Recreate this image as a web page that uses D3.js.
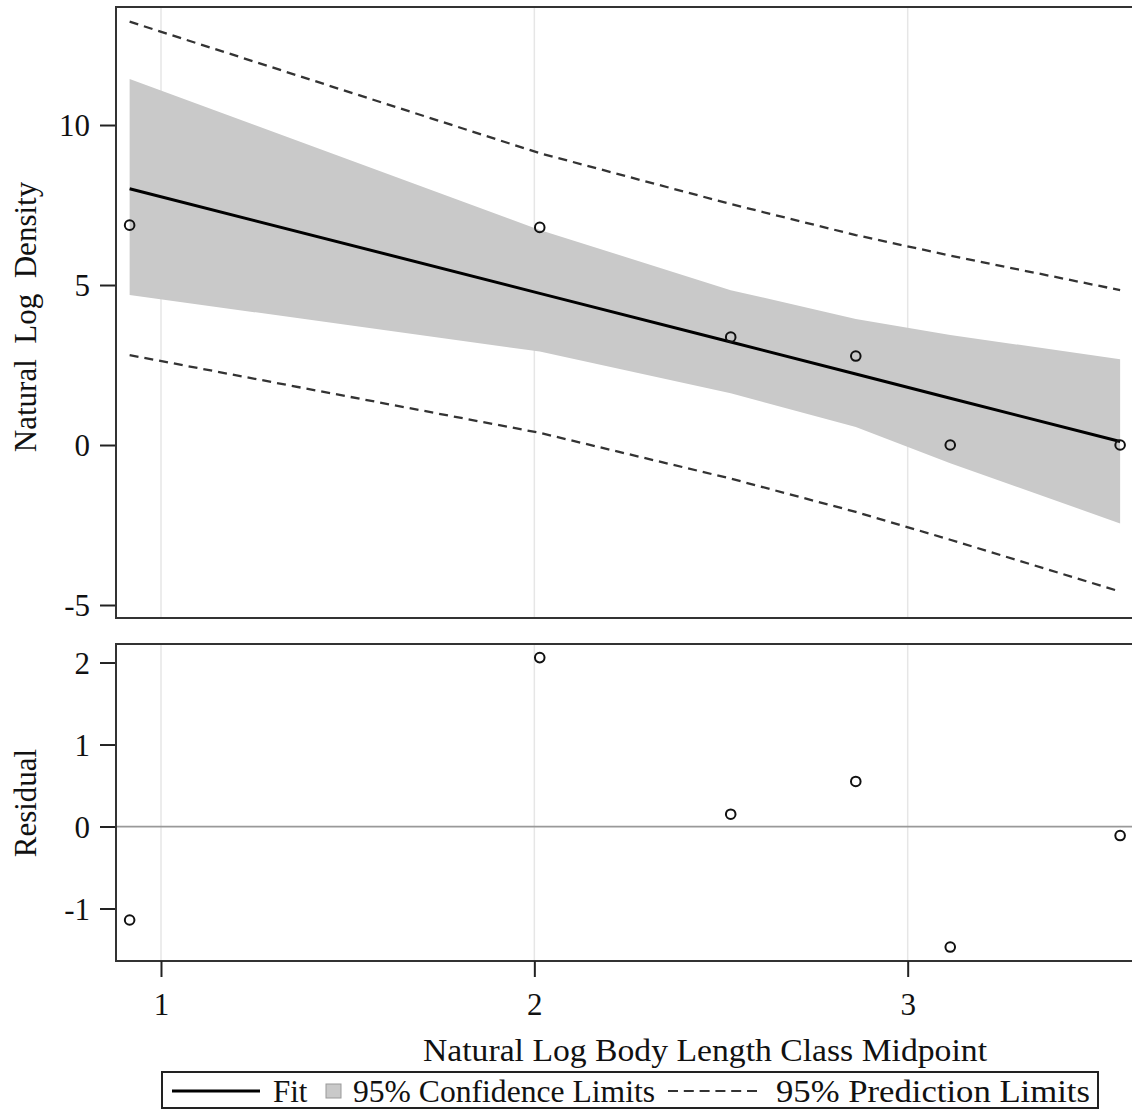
<!DOCTYPE html>
<html>
<head>
<meta charset="utf-8">
<script src="https://cdn.jsdelivr.net/npm/d3@7"></script>
<style>
  html, body { margin: 0; padding: 0; background: #fff; }
  svg { display: block; font-family: "Liberation Serif", "Times New Roman", serif; }
</style>
</head>
<body>
<svg id="chart" width="1132" height="1110"></svg>
<script>
// ---- data ----
const xVals      = [0.916, 2.0145, 2.526, 2.861, 3.114, 3.569];
const observed   = [6.87, 6.80, 3.37, 2.78, 0.0, 0.0];
const fitted     = [8.01, 4.74, 3.22, 2.22, 1.46, 0.11];
const clmUpper   = [11.44, 6.72, 4.84, 3.94, 3.44, 2.68];
const clmLower   = [4.69, 2.92, 1.62, 0.56, -0.57, -2.45];
const pliUpper   = [13.23, 9.12, 7.53, 6.56, 5.92, 4.84];
const pliLower   = [2.81, 0.38, -1.05, -2.09, -2.96, -4.58];
const residuals  = [-1.14, 2.06, 0.15, 0.55, -1.47, -0.11];
const xTicks     = [1, 2, 3];
const yTopTicks  = [-5, 0, 5, 10];
const yResTicks  = [-1, 0, 1, 2];
const xTitle     = "Natural Log Body Length Class Midpoint";
const yTopTitle  = "Natural  Log  Density";
const yResTitle  = "Residual";
const legendLabels = ["Fit", "95% Confidence Limits", "95% Prediction Limits"];

const rows = xVals.map((x, i) => ({
  x, y: observed[i], fit: fitted[i], cu: clmUpper[i], cl: clmLower[i],
  pu: pliUpper[i], pl: pliLower[i], r: residuals[i]
}));

// ---- layout ----
const svg = d3.select("#chart");
const L = 116, R = 1133;
const topP = { t: 7, b: 618 };
const resP = { t: 644, b: 961 };
const FS = 31;

const x = d3.scaleLinear().domain([0.8795, 3.6035]).range([L, R]);
const yTop = d3.scaleLinear().domain([-5.406, 13.688]).range([topP.b, topP.t]);
const yRes = d3.scaleLinear().domain([-1.64, 2.226]).range([resP.b, resP.t]);

function panel(yScale, p, ticks, cls) {
  const g = svg.append("g").attr("class", cls);
  const cid = "clip-" + cls;
  svg.append("clipPath").attr("id", cid)
    .append("rect").attr("x", L).attr("y", p.t).attr("width", R - L).attr("height", p.b - p.t);
  const inner = g.append("g").attr("clip-path", `url(#${cid})`);
  inner.selectAll("line.grid").data(xTicks).join("line")
    .attr("class", "grid")
    .attr("x1", d => x(d)).attr("x2", d => x(d))
    .attr("y1", p.t).attr("y2", p.b)
    .attr("stroke", "#e6e6e6").attr("stroke-width", 1.5);
  const ax = g.append("g").attr("transform", `translate(${L},0)`)
    .call(d3.axisLeft(yScale).tickValues(ticks).tickSize(16).tickPadding(10)
      .tickFormat(d => String(d)));
  ax.select(".domain").remove();
  ax.selectAll(".tick line").attr("stroke", "#222").attr("stroke-width", 2);
  ax.selectAll(".tick text").attr("font-size", FS).attr("fill", "#111")
    .attr("font-family", "Liberation Serif, serif").attr("dy", "0.34em");
  return { g, inner };
}

// ---- top panel ----
const topPanel = panel(yTop, topP, yTopTicks, "toppanel");
topPanel.inner.append("path").datum(rows)
  .attr("d", d3.area().x(d => x(d.x)).y0(d => yTop(d.cl)).y1(d => yTop(d.cu)))
  .attr("fill", "#c9c9c9");
const dashStyle = sel => sel.attr("fill", "none").attr("stroke", "#333")
  .attr("stroke-width", 2.3).attr("stroke-dasharray", "9,6");
topPanel.inner.append("path").datum(rows)
  .attr("d", d3.line().x(d => x(d.x)).y(d => yTop(d.pu))).call(dashStyle);
topPanel.inner.append("path").datum(rows)
  .attr("d", d3.line().x(d => x(d.x)).y(d => yTop(d.pl))).call(dashStyle);
topPanel.inner.append("path").datum(rows)
  .attr("d", d3.line().x(d => x(d.x)).y(d => yTop(d.fit)))
  .attr("fill", "none").attr("stroke", "#000").attr("stroke-width", 3);
topPanel.g.selectAll("circle.obs").data(rows).join("circle")
  .attr("class", "obs")
  .attr("cx", d => x(d.x)).attr("cy", d => yTop(d.y)).attr("r", 4.8)
  .attr("fill", "none").attr("stroke", "#111").attr("stroke-width", 2);
topPanel.g.append("rect").attr("x", L).attr("y", topP.t).attr("width", R - L).attr("height", topP.b - topP.t)
  .attr("fill", "none").attr("stroke", "#333").attr("stroke-width", 2);

// ---- residual panel ----
const resPanel = panel(yRes, resP, yResTicks, "respanel");
resPanel.inner.append("line")
  .attr("x1", L).attr("x2", R).attr("y1", yRes(0)).attr("y2", yRes(0))
  .attr("stroke", "#999").attr("stroke-width", 1.8);
resPanel.g.selectAll("circle.res").data(rows).join("circle")
  .attr("class", "res")
  .attr("cx", d => x(d.x)).attr("cy", d => yRes(d.r)).attr("r", 4.8)
  .attr("fill", "none").attr("stroke", "#111").attr("stroke-width", 2);
resPanel.g.append("rect").attr("x", L).attr("y", resP.t).attr("width", R - L).attr("height", resP.b - resP.t)
  .attr("fill", "none").attr("stroke", "#333").attr("stroke-width", 2);

// x axis
const xa = svg.append("g").attr("transform", `translate(0,${resP.b})`)
  .call(d3.axisBottom(x).tickValues(xTicks).tickSize(16).tickPadding(16).tickFormat(d => String(d)));
xa.select(".domain").remove();
xa.selectAll(".tick line").attr("stroke", "#222").attr("stroke-width", 2);
xa.selectAll(".tick text").attr("font-size", FS).attr("fill", "#111")
  .attr("font-family", "Liberation Serif, serif");

// titles
svg.append("text").attr("x", 423).attr("y", 1061)
  .attr("textLength", 564).attr("lengthAdjust", "spacingAndGlyphs")
  .attr("font-size", FS).attr("fill", "#111").style("white-space", "pre").text(xTitle);
svg.append("text").attr("transform", `translate(36,317) rotate(-90)`).attr("text-anchor", "middle")
  .attr("font-size", FS).attr("fill", "#111").style("white-space", "pre").text(yTopTitle);
svg.append("text").attr("transform", `translate(36,803) rotate(-90)`).attr("text-anchor", "middle")
  .attr("font-size", FS).attr("fill", "#111").text(yResTitle);

// legend
const lg = svg.append("g");
lg.append("rect").attr("x", 162).attr("y", 1072).attr("width", 936).attr("height", 36)
  .attr("fill", "#fff").attr("stroke", "#222").attr("stroke-width", 2);
const ly = 1091;
lg.append("line").attr("x1", 172).attr("x2", 260).attr("y1", ly).attr("y2", ly)
  .attr("stroke", "#000").attr("stroke-width", 3);
lg.append("text").attr("x", 273).attr("y", ly).attr("dy", "0.34em").attr("font-size", FS).attr("fill", "#111").text(legendLabels[0]);
lg.append("rect").attr("x", 326).attr("y", ly - 7).attr("width", 15).attr("height", 14)
  .attr("fill", "#c9c9c9").attr("stroke", "#999").attr("stroke-width", 1);
lg.append("text").attr("x", 353).attr("y", ly).attr("dy", "0.34em")
  .attr("textLength", 302).attr("lengthAdjust", "spacingAndGlyphs")
  .attr("font-size", FS).attr("fill", "#111").text(legendLabels[1]);
lg.append("line").attr("x1", 668).attr("x2", 757).attr("y1", ly).attr("y2", ly)
  .attr("stroke", "#333").attr("stroke-width", 1.8).attr("stroke-dasharray", "10,5.8");
lg.append("text").attr("x", 776).attr("y", ly).attr("dy", "0.34em")
  .attr("textLength", 314).attr("lengthAdjust", "spacingAndGlyphs")
  .attr("font-size", FS).attr("fill", "#111").text(legendLabels[2]);
</script>
</body>
</html>
